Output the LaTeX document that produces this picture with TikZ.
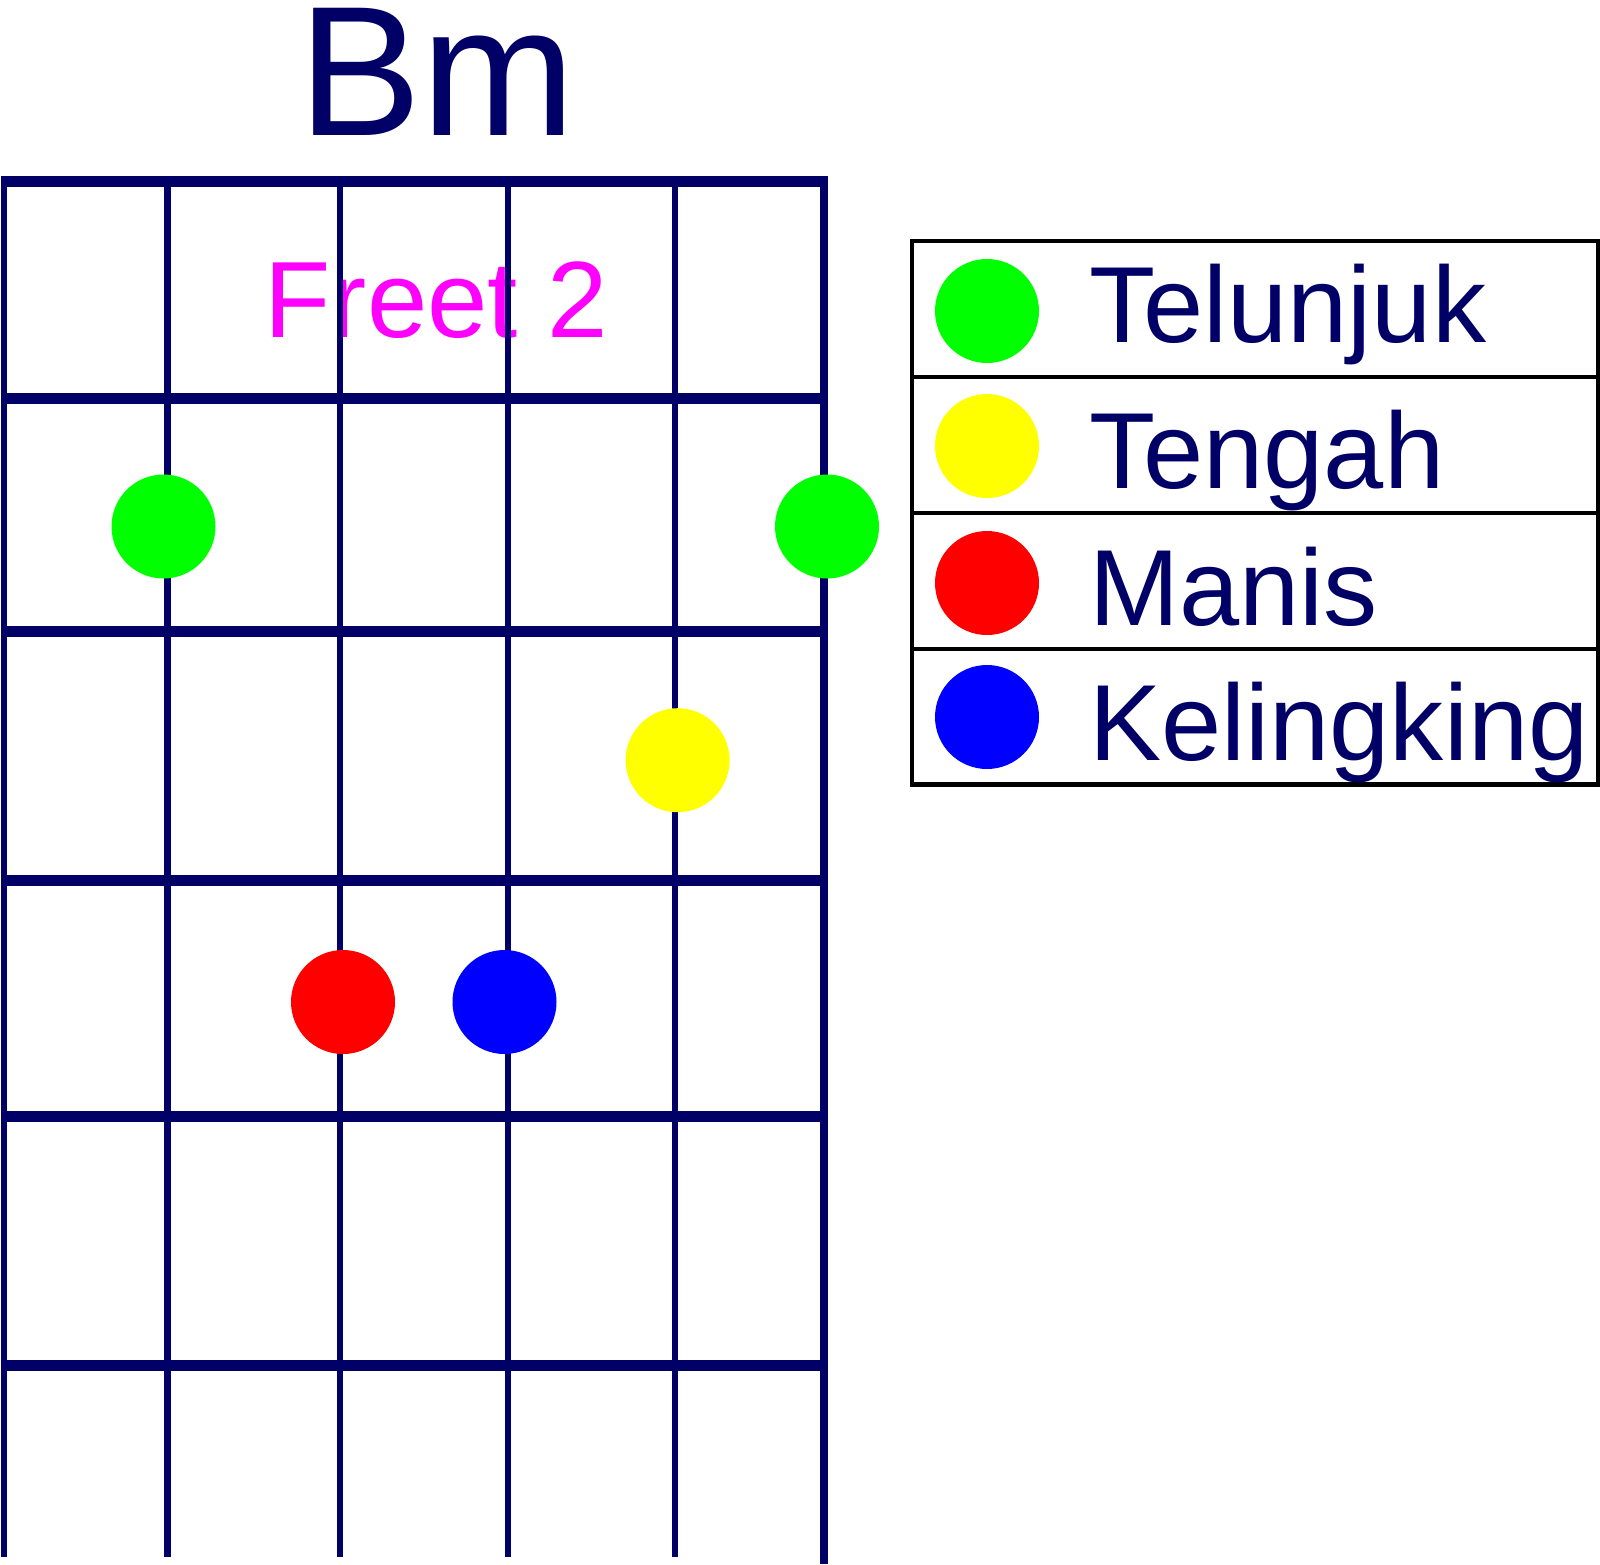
\documentclass[tikz,border=0pt]{standalone}
\usepackage{fontspec}
\setmainfont{Liberation Sans}
\definecolor{navy}{HTML}{000066}
\definecolor{fretmag}{HTML}{FF00FF}
\definecolor{fgreen}{HTML}{00FF00}
\definecolor{fyellow}{HTML}{FFFF00}
\definecolor{fred}{HTML}{FF0000}
\definecolor{fblue}{HTML}{0000FF}
\begin{document}
\begin{tikzpicture}[x=1pt,y=-1pt,
  dot/.style={circle,minimum size=104pt,inner sep=0pt,draw=none},
  lbl/.style={anchor=base west,inner sep=0pt,text=navy,font=\fontsize{108.2}{110}\selectfont},
  stringline/.style={navy,line width=6.8pt},
  fretline/.style={navy,line width=11pt},
  legendline/.style={black,line width=4.5pt}]
\useasboundingbox (0,0) rectangle (1600,1564);
% title and fret label
\node[anchor=base west,inner sep=0pt,text=navy,font=\fontsize{185}{190}\selectfont] (title) at (298,135) {Bm};
\node[anchor=base west,inner sep=0pt,text=fretmag,font=\fontsize{108.5}{110}\selectfont] (fretlabel) at (264.5,337) {Freet 2};
% strings
\foreach \x in {4,167.5,340,508,675}{
  \draw[stringline] (\x,176) -- (\x,1557);
}
\draw[stringline,line width=7.6pt] (824,176) -- (824,1564);
% frets
\foreach \y in {181.6,398,631.6,880.6,1116.3,1365.3}{
  \draw[fretline] (1,\y) -- (828,\y);
}
% finger dots
\node[dot,fill=fgreen] (d1) at (163.5,526.5) {};
\node[dot,fill=fgreen] (d2) at (827,526.5) {};
\node[dot,fill=fyellow] (d3) at (677.6,760.2) {};
\node[dot,fill=fred] (d4) at (343,1002) {};
\node[dot,fill=fblue] (d5) at (504.5,1002) {};
% legend
\draw[legendline] (912,241) rectangle (1598,784.5);
\draw[legendline] (912,377) -- (1598,377);
\draw[legendline] (912,513) -- (1598,513);
\draw[legendline] (912,649) -- (1598,649);
\node[dot,fill=fgreen] (l1) at (987,311) {};
\node[dot,fill=fyellow] (l2) at (987,446) {};
\node[dot,fill=fred] (l3) at (987,583) {};
\node[dot,fill=fblue] (l4) at (987,717) {};
\node[lbl] (t1) at (1089,342) {Telunjuk};
\node[lbl] (t2) at (1089,488) {Tengah};
\node[lbl] (t3) at (1089,625.5) {Manis};
\node[lbl] (t4) at (1089,760) {Kelingking};
\end{tikzpicture}
\end{document}
